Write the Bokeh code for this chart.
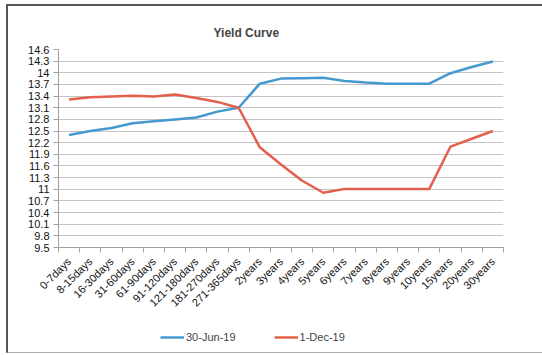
import math
from bokeh.plotting import figure
from bokeh.layouts import column
from bokeh.models import FixedTicker, Legend, LegendItem, Range1d, Title
from bokeh.embed import file_html
from bokeh.resources import INLINE

categories = ["0-7days", "8-15days", "16-30days", "31-60days", "61-90days",
              "91-120days", "121-180days", "181-270days", "271-365days",
              "2years", "3years", "4years", "5years", "6years", "7years",
              "8years", "9years", "10years", "15years", "20years", "30years"]
jun19 = [12.40, 12.50, 12.58, 12.70, 12.75, 12.80, 12.85, 13.00, 13.10,
         13.72, 13.85, 13.86, 13.87, 13.79, 13.75, 13.72, 13.72, 13.72,
         13.99, 14.15, 14.29]
dec19 = [13.31, 13.37, 13.39, 13.41, 13.39, 13.44, 13.35, 13.25, 13.10,
         12.08, 11.64, 11.22, 10.91, 11.01, 11.01, 11.01, 11.01, 11.01,
         12.10, 12.30, 12.50]
y_ticks = [9.5, 9.8, 10.1, 10.4, 10.7, 11.0, 11.3, 11.6, 11.9, 12.2, 12.5,
           12.8, 13.1, 13.4, 13.7, 14.0, 14.3, 14.6]
series_names = ["30-Jun-19", "1-Dec-19"]

FONT = "Liberation Sans"
BLUE = "#4499D0"
RED = "#E2604C"

xs = [i + 0.5 for i in range(len(categories))]

p = figure(width=534, height=316, output_backend="svg", toolbar_location=None,
           x_range=Range1d(0, len(categories)), y_range=Range1d(9.5, 14.6),
           min_border_left=50, min_border_right=39, min_border_top=43,
           min_border_bottom=75)
p.background_fill_color = "white"
p.border_fill_color = "white"
p.outline_line_color = None

title = Title(text="Yield Curve", text_font=FONT, text_font_size="12px",
              text_font_style="bold", align="left", offset=155, standoff=20)
p.add_layout(title, "above")

# Y axis
p.yaxis.ticker = FixedTicker(ticks=y_ticks)
p.yaxis.major_label_overrides = {t: ("%g" % t) for t in y_ticks}
p.yaxis.axis_line_color = "#A0A0A0"
p.yaxis.major_tick_line_color = "#A0A0A0"
p.yaxis.major_tick_out = 5
p.yaxis.major_tick_in = 0
p.yaxis.minor_tick_line_color = None
p.yaxis.major_label_text_font = FONT
p.yaxis.major_label_text_font_size = "11px"
p.yaxis.major_label_text_color = "#111111"
p.yaxis.major_label_standoff = 4

# X axis
p.xaxis.ticker = FixedTicker(ticks=xs, minor_ticks=list(range(len(categories) + 1)))
p.xaxis.major_label_overrides = {x: c for x, c in zip(xs, categories)}
p.xaxis.major_label_orientation = math.pi / 4
p.xaxis.axis_line_color = "#A0A0A0"
p.xaxis.major_tick_line_color = None
p.xaxis.minor_tick_line_color = "#A0A0A0"
p.xaxis.minor_tick_out = 5
p.xaxis.minor_tick_in = 0
p.xaxis.major_label_text_font = FONT
p.xaxis.major_label_text_font_size = "11px"
p.xaxis.major_label_text_color = "#111111"
p.xaxis.major_label_standoff = 6

p.xgrid.grid_line_color = None
p.ygrid.grid_line_color = "#C4C4C4"
p.ygrid.grid_line_width = 1

p.line(xs, jun19, line_color=BLUE, line_width=2.5)
p.line(xs, dec19, line_color=RED, line_width=2.5)

# Legend holder (its own small figure below the chart)
lg = figure(width=534, height=30, output_backend="svg", toolbar_location=None,
            x_range=Range1d(0, 1), y_range=Range1d(0, 1),
            x_axis_location=None, y_axis_location=None, min_border=0)
lg.grid.visible = False
lg.outline_line_color = None
lg.background_fill_color = "white"
lg.border_fill_color = "white"
l1 = lg.line([5, 6], [5, 6], line_color=BLUE, line_width=2.5)
l2 = lg.line([5, 6], [5, 6], line_color=RED, line_width=2.5)
legend = Legend(items=[LegendItem(label=series_names[0], renderers=[l1]),
                       LegendItem(label=series_names[1], renderers=[l2])],
                orientation="horizontal", location=(102, 9),
                label_text_font=FONT, label_text_font_size="11px",
                glyph_width=24, glyph_height=12, label_standoff=2, spacing=38,
                label_height=12,
                border_line_color=None, background_fill_alpha=0,
                padding=0, margin=0)
lg.add_layout(legend, "center")

layout = column(p, lg, spacing=0, margin=(4, 0, 0, 6),
                styles={"border-top": "2px solid #555555",
                        "border-left": "2px solid #555555",
                        "border-bottom": "1px solid #aaaaaa",
                        "background-color": "white"})

open("out.html", "w").write(file_html(layout, INLINE))
